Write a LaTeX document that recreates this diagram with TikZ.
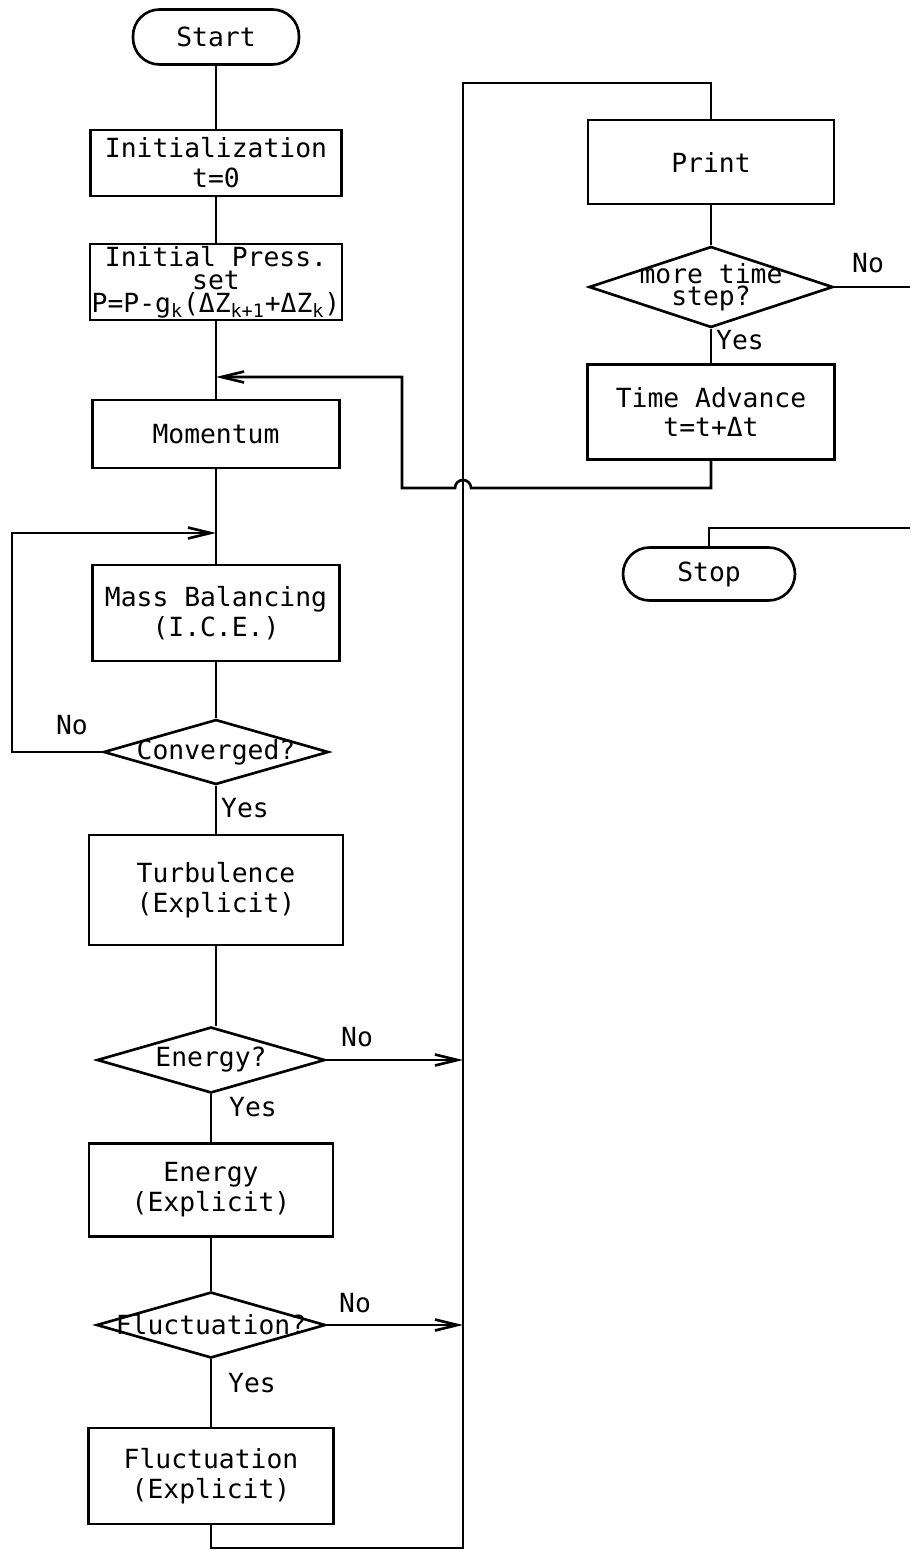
\documentclass[tikz,border=0pt]{standalone}
\usepackage{fontspec}
\setmainfont{DejaVu Sans Mono}
\usetikzlibrary{arrows.meta,shapes.geometric}

\begin{document}
\begin{tikzpicture}[>={Straight Barb[length=4.5mm,width=2.2mm]}, x=0.02cm, y=-0.02cm, line width=1.5pt,
	every node/.style={font=\fontsize{15}{17}\selectfont}]
			\tikzstyle{term} = [draw, line width=1.5pt, rounded corners=0.53cm, inner sep=0pt]
			\tikzstyle{proc} = [draw, line width=1.5pt, align=center, inner sep=1pt]
			\tikzstyle{cond} = [draw, line width=1.5pt, diamond, inner sep=0pt]
			\tikzstyle{answer} = [inner sep=1pt]
			\useasboundingbox (0,0) rectangle (910,1551);

			% main column
			\path[-]
			node[term, minimum width=3.32cm, minimum height=1.1cm] (start) at (216,37) {Start}
			node[proc, minimum width=5.02cm, minimum height=1.32cm] (init) at (216,163) {Initialization\\t=0}
			node[proc, minimum width=5.04cm, minimum height=1.5cm, font=\fontsize{15}{13.2}\selectfont] (press) at (216,282)
				{Initial Press.\\set\\P=P-g\textsubscript{k}(ΔZ\textsubscript{k+1}+ΔZ\textsubscript{k})}
			node[proc, minimum width=4.94cm, minimum height=1.36cm] (momentum) at (216,434) {Momentum}
			node[proc, minimum width=4.94cm, minimum height=1.92cm] (mass) at (216,613) {Mass Balancing\\(I.C.E.)}
			node[cond, minimum width=4.5cm, minimum height=1.3cm, label=center:{Converged?}] (conv) at (216,752) {}
			node[proc, minimum width=5.08cm, minimum height=2.2cm] (turb) at (216,890) {Turbulence\\(Explicit)}
			node[cond, minimum width=4.56cm, minimum height=1.32cm, label=center:{Energy?}] (energyq) at (211,1060) {}
			node[proc, minimum width=4.88cm, minimum height=1.86cm] (energy) at (211,1190) {Energy\\(Explicit)}
			node[cond, minimum width=4.58cm, minimum height=1.32cm, label=center:{Fluctuation?}] (flucq) at (211,1325) {}
			node[proc, minimum width=4.9cm, minimum height=1.92cm] (fluct) at (211,1476) {Fluctuation\\(Explicit)}

			(start) edge (init)
			(init) edge (press)
			(press) edge (momentum)
			(momentum) edge (mass)
			(mass) edge (conv)
			(conv) edge (turb)
			(turb) edge (turb |- energyq.north)
			(energyq) edge (energy)
			(energy) edge (flucq)
			(flucq) edge (fluct)
			;

			% right column
			\path[-]
			node[proc, minimum width=4.92cm, minimum height=1.68cm] (print) at (711,162) {Print}
			node[cond, minimum width=4.88cm, minimum height=1.62cm,
				label={[align=center, font=\fontsize{15}{10}\selectfont]center:more time\\step?}] (moreq) at (711,287) {}
			node[proc, minimum width=4.94cm, minimum height=1.9cm] (advance) at (711,412) {Time Advance\\t=t+Δt}
			node[term, minimum width=3.44cm, minimum height=1.06cm] (stop) at (709,574) {Stop}

			(print) edge (moreq)
			(moreq) edge (advance)
			;

			\coordinate (bustop) at (463,83);
			\coordinate (busbot) at (463,1548);
			\coordinate (hop) at (463,488);
			\coordinate (backin) at (216,377);
			\coordinate (loopout) at (12,533);
			\coordinate (loopin) at (216,533);
			\coordinate (edgeno) at (910,287);
			\coordinate (edgestop) at (910,528);

			\draw (fluct) |- (busbot) -- (bustop) -| (print);
			\draw[->] (energyq) -- (energyq -| bustop);
			\draw[->] (flucq) -- (flucq -| bustop);
			\draw[->] (conv) -| (loopout) -- (loopin);
			\draw[->] (advance) |- ([xshift=0.16cm]hop) arc[start angle=0, end angle=180, radius=0.16cm]
				-- (402,488) |- (backin);
			\draw (moreq) -- (edgeno);
			\draw (stop) |- (edgestop);

			% answers
			\node[answer] (no1) at (72,725) {No};
			\node[answer] (yes1) at (245,808) {Yes};
			\node[answer] (no2) at (357,1037) {No};
			\node[answer] (yes2) at (253,1107) {Yes};
			\node[answer] (no3) at (355,1303) {No};
			\node[answer] (yes3) at (252,1383) {Yes};
			\node[answer] (no4) at (868,263) {No};
			\node[answer] (yes4) at (740,340) {Yes};
\end{tikzpicture}
\end{document}
